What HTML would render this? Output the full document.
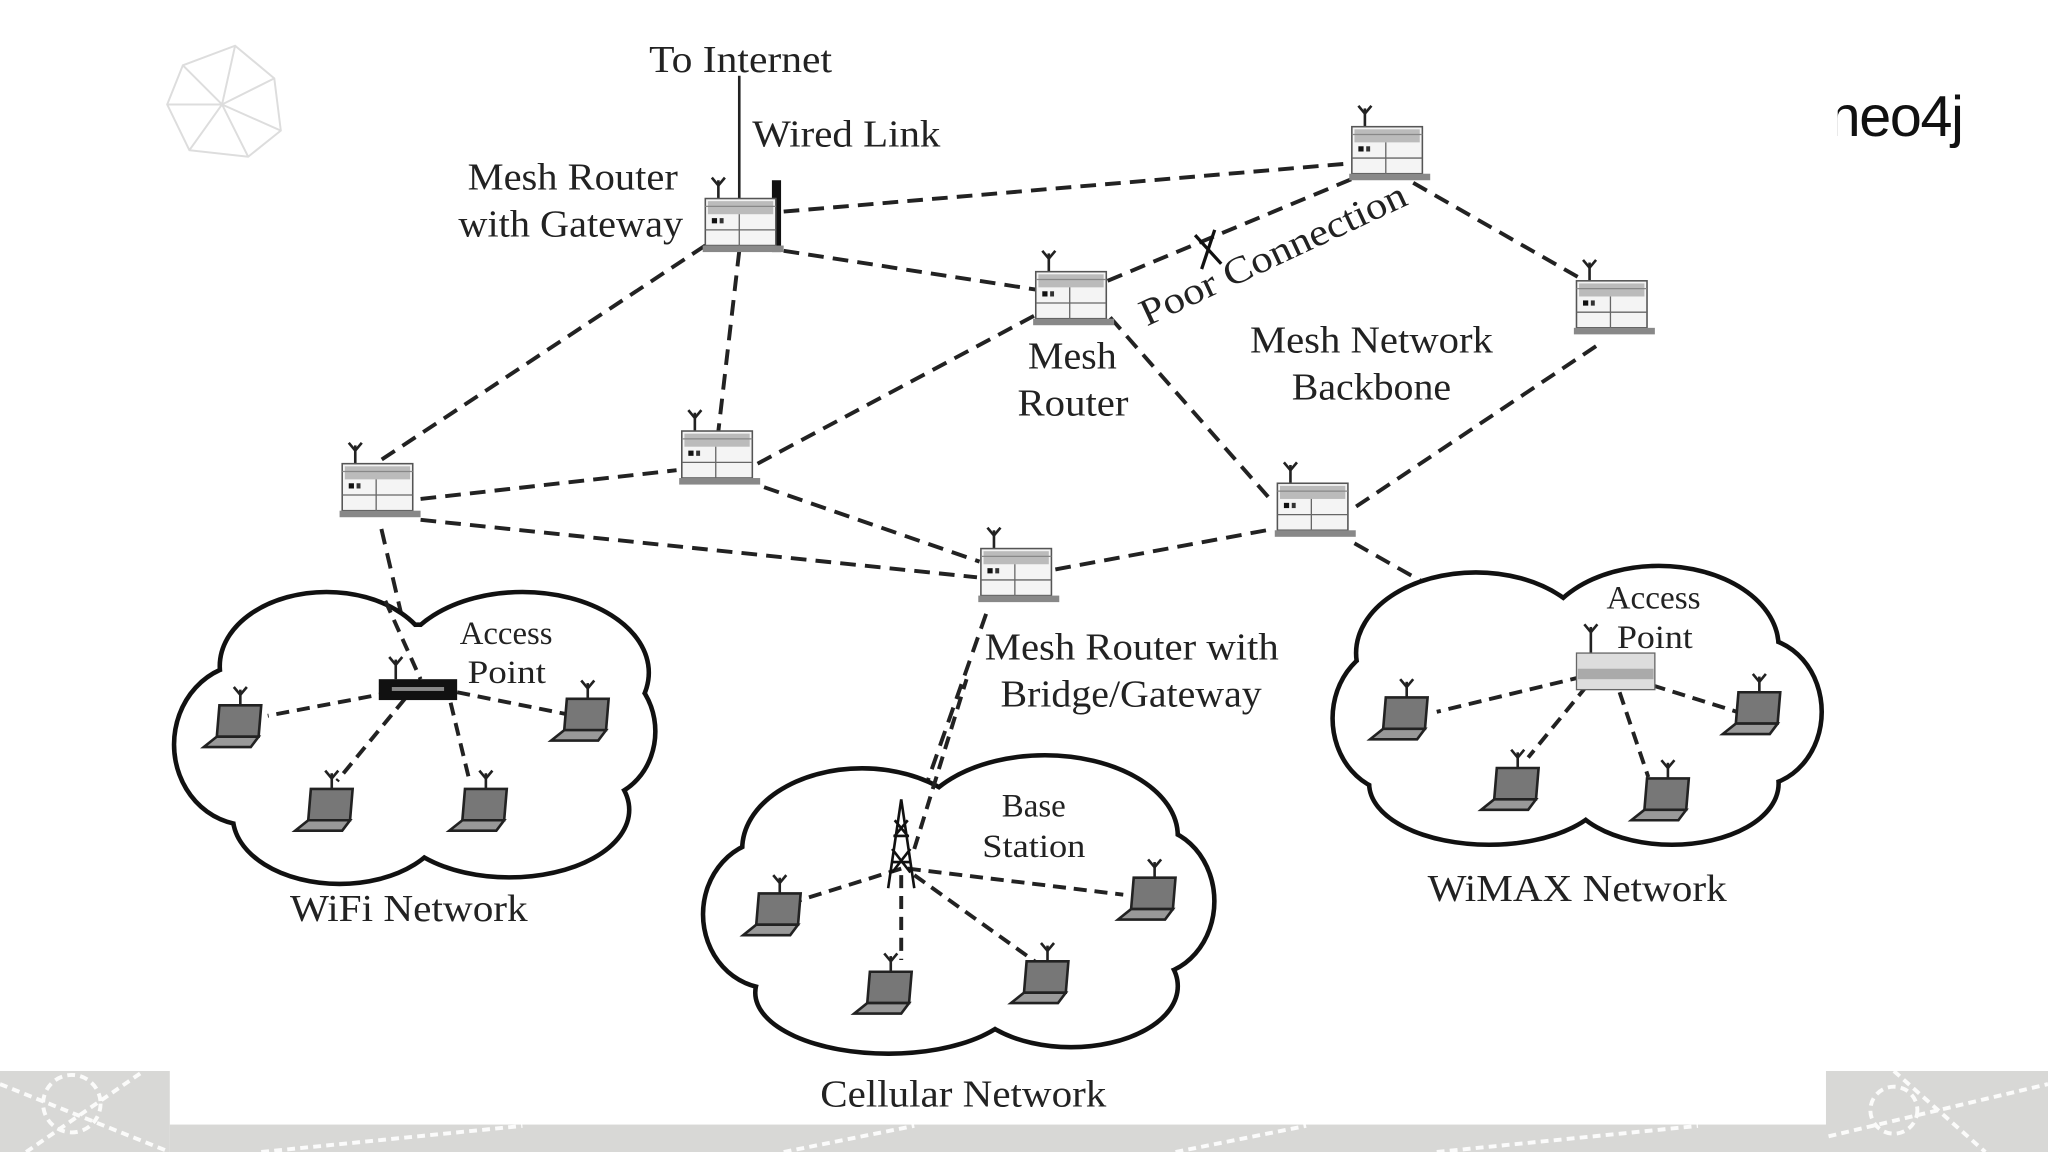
<!DOCTYPE html>
<html><head><meta charset="utf-8"><style>
html,body{margin:0;padding:0;background:#fff;}
svg{display:block}
text{font-family:"Liberation Serif",serif;fill:#222}
</style></head><body>
<svg width="2048" height="1152" viewBox="0 0 1568 882" xmlns="http://www.w3.org/2000/svg">
<defs>
<g id="rt">
 <line x1="10" y1="-14" x2="10" y2="0" stroke="#222" stroke-width="2"/>
 <path d="M5,-16 L10,-10 L15,-16" fill="none" stroke="#222" stroke-width="2"/>
 <rect x="0" y="0" width="54" height="36" fill="#f4f4f4" stroke="#555" stroke-width="1.2"/>
 <rect x="2" y="2" width="50" height="10" fill="#bbb"/>
 <line x1="0" y1="6" x2="54" y2="6" stroke="#888"/>
 <line x1="0" y1="24" x2="54" y2="24" stroke="#666"/>
 <line x1="26" y1="12" x2="26" y2="36" stroke="#666"/>
 <rect x="5" y="15" width="4" height="4" fill="#111"/><rect x="11" y="15" width="3" height="4" fill="#333"/>
 <rect x="-2" y="36" width="62" height="5" fill="#888"/>
</g>
<g id="lp">
 <line x1="22" y1="-12" x2="22" y2="0" stroke="#222" stroke-width="2"/>
 <path d="M17,-14 L22,-8 L27,-14" fill="none" stroke="#222" stroke-width="2"/>
 <path d="M6,0 L38,0 L36,24 L4,24 Z" fill="#777" stroke="#222" stroke-width="2"/>
 <path d="M4,24 L36,24 L30,32 L-6,32 Z" fill="#999" stroke="#222" stroke-width="2"/>
</g>
</defs>
<rect x="0" y="820" width="130" height="62" fill="#d8d8d6"/>
<rect x="130" y="861" width="1270" height="21" fill="#d8d8d6"/>
<rect x="1398" y="820" width="170" height="62" fill="#d8d8d6"/>
<g stroke="#fff" stroke-width="3" stroke-dasharray="6 4" fill="none" opacity="0.9">
 <circle cx="55" cy="845" r="22"/><path d="M0,830 L130,882 M20,882 L110,820"/>
 <path d="M1400,870 L1568,830 M1450,820 L1520,882"/><circle cx="1450" cy="850" r="18"/>
 <path d="M200,882 L400,862 M600,882 L700,862 M900,882 L1000,862 M1100,882 L1300,862"/>
</g>
<g stroke="#ddd" stroke-width="1.5" fill="none">
 <path d="M140,50 L180,35 L210,60 L215,100 L190,120 L145,115 L128,80 Z M140,50 L170,80 L210,60 M170,80 L145,115 M170,80 L190,120 M170,80 L128,80 M180,35 L170,80 M170,80 L215,100"/>
</g>
<text x="1400" y="104" font-size="44" style="font-family:'Liberation Sans',sans-serif;fill:#111;letter-spacing:-1px">neo4j</text>
<rect x="1395" y="60" width="12" height="50" fill="#fff"/>

<g stroke="#222" stroke-width="3" stroke-dasharray="12 7" fill="none">
 <path d="M540,188 L292,352"/>
 <path d="M566,192 L550,330"/>
 <path d="M600,192 L795,222"/>
 <path d="M600,162 L1035,125"/>
 <path d="M848,215 L1040,135"/>
 <path d="M1082,140 L1208,212"/>
 <path d="M1222,265 L1035,390"/>
 <path d="M850,243 L975,385"/>
 <path d="M580,355 L795,240"/>
 <path d="M585,373 L750,430"/>
 <path d="M322,382 L518,360"/>
 <path d="M322,398 L748,442"/>
 <path d="M808,436 L975,405"/>
 <path d="M1037,416 L1212,515"/>
 <path d="M292,405 L320,525"/>
 <path d="M755,470 L692,650"/>
</g>
<path d="M915,180 L935,202 M930,176 L920,206" stroke="#111" stroke-width="2.5"/>
<line x1="566" y1="58" x2="566" y2="152" stroke="#222" stroke-width="2"/>
<rect x="591" y="138" width="7" height="55" fill="#111"/>

<use href="#rt" x="540" y="152"/>
<use href="#rt" x="1035" y="97"/>
<use href="#rt" x="1207" y="215"/>
<use href="#rt" x="793" y="208"/>
<use href="#rt" x="262" y="355"/>
<use href="#rt" x="522" y="330"/>
<use href="#rt" x="978" y="370"/>
<use href="#rt" x="751" y="420"/>

<g stroke="#111" stroke-width="7" fill="#111">
 <ellipse cx="250" cy="510" rx="80" ry="55"/><ellipse cx="400" cy="515" rx="95" ry="60"/>
 <ellipse cx="190" cy="570" rx="55" ry="60"/><ellipse cx="455" cy="560" rx="45" ry="50"/>
 <ellipse cx="260" cy="625" rx="80" ry="50"/><ellipse cx="390" cy="620" rx="90" ry="50"/>
 <ellipse cx="320" cy="560" rx="150" ry="80"/>
 <ellipse cx="660" cy="650" rx="90" ry="60"/><ellipse cx="800" cy="640" rx="100" ry="60"/>
 <ellipse cx="590" cy="700" rx="50" ry="55"/><ellipse cx="880" cy="690" rx="48" ry="55"/>
 <ellipse cx="680" cy="760" rx="100" ry="45"/><ellipse cx="820" cy="755" rx="80" ry="45"/>
 <ellipse cx="735" cy="700" rx="170" ry="80"/>
 <ellipse cx="1130" cy="500" rx="90" ry="60"/><ellipse cx="1270" cy="495" rx="90" ry="60"/>
 <ellipse cx="1070" cy="550" rx="48" ry="55"/><ellipse cx="1345" cy="545" rx="48" ry="55"/>
 <ellipse cx="1140" cy="600" rx="90" ry="45"/><ellipse cx="1280" cy="600" rx="80" ry="45"/>
 <ellipse cx="1205" cy="545" rx="150" ry="75"/>
</g>
<g fill="#fff">
 <ellipse cx="250" cy="510" rx="80" ry="55"/><ellipse cx="400" cy="515" rx="95" ry="60"/>
 <ellipse cx="190" cy="570" rx="55" ry="60"/><ellipse cx="455" cy="560" rx="45" ry="50"/>
 <ellipse cx="260" cy="625" rx="80" ry="50"/><ellipse cx="390" cy="620" rx="90" ry="50"/>
 <ellipse cx="320" cy="560" rx="150" ry="80"/>
 <ellipse cx="660" cy="650" rx="90" ry="60"/><ellipse cx="800" cy="640" rx="100" ry="60"/>
 <ellipse cx="590" cy="700" rx="50" ry="55"/><ellipse cx="880" cy="690" rx="48" ry="55"/>
 <ellipse cx="680" cy="760" rx="100" ry="45"/><ellipse cx="820" cy="755" rx="80" ry="45"/>
 <ellipse cx="735" cy="700" rx="170" ry="80"/>
 <ellipse cx="1130" cy="500" rx="90" ry="60"/><ellipse cx="1270" cy="495" rx="90" ry="60"/>
 <ellipse cx="1070" cy="550" rx="48" ry="55"/><ellipse cx="1345" cy="545" rx="48" ry="55"/>
 <ellipse cx="1140" cy="600" rx="90" ry="45"/><ellipse cx="1280" cy="600" rx="80" ry="45"/>
 <ellipse cx="1205" cy="545" rx="150" ry="75"/>
</g>

<g stroke="#222" stroke-width="3" stroke-dasharray="10 6" fill="none">
 <path d="M300,530 L205,548"/><path d="M350,530 L440,548"/><path d="M310,535 L258,598"/><path d="M345,538 L360,600"/>
 <path d="M295,460 L322,520"/>
 <path d="M690,665 L610,690"/><path d="M695,665 L860,685"/><path d="M690,670 L690,735"/><path d="M700,670 L795,738"/><path d="M700,650 L740,520"/>
 <path d="M1212,518 L1100,545"/><path d="M1250,520 L1330,545"/><path d="M1215,525 L1170,580"/><path d="M1240,530 L1262,595"/>
</g>
<line x1="303" y1="505" x2="303" y2="520" stroke="#222" stroke-width="2"/><path d="M298,503 L303,509 L308,503" stroke="#222" stroke-width="2" fill="none"/>
<rect x="290" y="520" width="60" height="16" fill="#111"/><rect x="300" y="526" width="40" height="3" fill="#888"/>
<line x1="1218" y1="480" x2="1218" y2="500" stroke="#222" stroke-width="2"/><path d="M1213,478 L1218,484 L1223,478" stroke="#222" stroke-width="2" fill="none"/>
<rect x="1207" y="500" width="60" height="28" fill="#ddd" stroke="#666"/><rect x="1208" y="512" width="58" height="8" fill="#aaa"/>
<g stroke="#111" stroke-width="2" fill="none">
 <path d="M690,612 L680,680 M690,612 L700,680 M684,640 L696,640 M682,660 L698,660 M683,650 L697,668 M697,650 L683,668 M685,628 L695,640 M695,628 L685,640"/>
</g>
<use href="#lp" x="162" y="540"/><use href="#lp" x="428" y="535"/><use href="#lp" x="232" y="604"/><use href="#lp" x="350" y="604"/>
<use href="#lp" x="575" y="684"/><use href="#lp" x="862" y="672"/><use href="#lp" x="660" y="744"/><use href="#lp" x="780" y="736"/>
<use href="#lp" x="1055" y="534"/><use href="#lp" x="1325" y="530"/><use href="#lp" x="1140" y="588"/><use href="#lp" x="1255" y="596"/>

<g font-size="29" lengthAdjust="spacingAndGlyphs">
<text x="497" y="55" textLength="140" lengthAdjust="spacingAndGlyphs">To Internet</text>
<text x="576" y="112" textLength="144" lengthAdjust="spacingAndGlyphs">Wired Link</text>
<text x="358" y="145" textLength="161" lengthAdjust="spacingAndGlyphs">Mesh Router</text>
<text x="351" y="181" textLength="172" lengthAdjust="spacingAndGlyphs">with Gateway</text>
<text x="787" y="282" textLength="68" lengthAdjust="spacingAndGlyphs">Mesh</text>
<text x="779" y="318" textLength="85" lengthAdjust="spacingAndGlyphs">Router</text>
<text x="957" y="270" textLength="186" lengthAdjust="spacingAndGlyphs">Mesh Network</text>
<text x="989" y="306" textLength="122" lengthAdjust="spacingAndGlyphs">Backbone</text>
<text x="0" y="0" transform="translate(878,250) rotate(-25)" textLength="222" lengthAdjust="spacingAndGlyphs">Poor Connection</text>
<text x="754" y="505" textLength="225" lengthAdjust="spacingAndGlyphs">Mesh Router with</text>
<text x="766" y="541" textLength="200" lengthAdjust="spacingAndGlyphs">Bridge/Gateway</text>
<text x="222" y="705" textLength="182" lengthAdjust="spacingAndGlyphs">WiFi Network</text>
<text x="628" y="847" textLength="219" lengthAdjust="spacingAndGlyphs">Cellular Network</text>
<text x="1093" y="690" textLength="229" lengthAdjust="spacingAndGlyphs">WiMAX Network</text>
</g>
<g font-size="25">
<text x="352" y="493" textLength="71" lengthAdjust="spacingAndGlyphs">Access</text><text x="358" y="523" textLength="60" lengthAdjust="spacingAndGlyphs">Point</text>
<text x="767" y="625" textLength="49" lengthAdjust="spacingAndGlyphs">Base</text><text x="752" y="656" textLength="79" lengthAdjust="spacingAndGlyphs">Station</text>
<text x="1230" y="466" textLength="72" lengthAdjust="spacingAndGlyphs">Access</text><text x="1238" y="496" textLength="58" lengthAdjust="spacingAndGlyphs">Point</text>
</g>
</svg>
</body></html>
